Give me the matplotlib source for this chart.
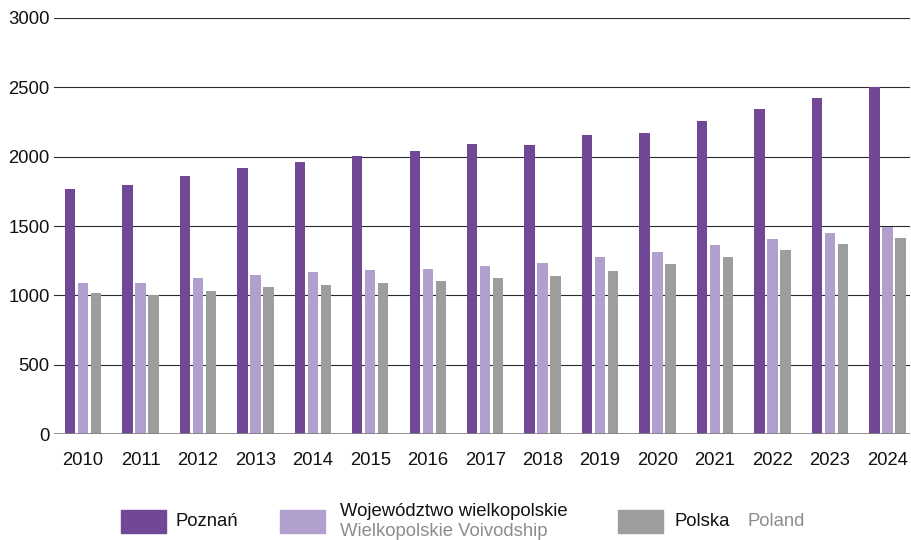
import matplotlib.pyplot as plt
import numpy as np
from matplotlib.patches import Rectangle

plt.rcParams['font.family'] = ['Liberation Sans', 'DejaVu Sans']

lata = [2010, 2011, 2012, 2013, 2014, 2015, 2016, 2017,
        2018, 2019, 2020, 2021, 2022, 2023, 2024]
poznan = [1764, 1796, 1861, 1916, 1962, 2007, 2043, 2089,
          2082, 2159, 2168, 2257, 2344, 2425, 2505]
wielkopolska = [1089, 1089, 1125, 1147, 1168, 1183, 1190, 1212,
                1233, 1276, 1312, 1363, 1406, 1450, 1493]
polska = [1014, 1002, 1031, 1058, 1072, 1089, 1101, 1123,
          1137, 1175, 1224, 1276, 1325, 1368, 1413]

kol_poznan = '#714896'
kol_woj = '#b19fcd'
kol_pl = '#9d9d9d'
rozmiar = 13.3

fig = plt.figure(figsize=(9.12, 5.40), dpi=100)
ax = fig.add_axes([0.0592, 0.196, 0.939, 0.7707])

x = np.arange(len(lata))
w = 0.18
ax.bar(x - 0.226, poznan, w, color=kol_poznan, zorder=3)
ax.bar(x, wielkopolska, w, color=kol_woj, zorder=3)
ax.bar(x + 0.226, polska, w, color=kol_pl, zorder=3)

ax.set_ylim(0, 3000)
ax.set_xlim(-0.505, 14.4)
ax.set_yticks(range(0, 3001, 500))
ax.set_xticks(x)
ax.set_xticklabels([str(r) for r in lata])
for s in ax.spines.values():
    s.set_visible(False)
ax.grid(axis='y', color='#2b2b2b', linewidth=0.8, zorder=1)
ax.axhline(0, color='#7f7f7f', linewidth=1.2, zorder=4)
ax.tick_params(axis='both', length=0, labelsize=rozmiar, colors='#111111')
ax.tick_params(axis='x', pad=13)
ax.tick_params(axis='y', pad=3)

# legenda
def kwadrat(x0, kolor):
    fig.patches.append(Rectangle((x0 / 912, 1 - 533 / 540), 45 / 912, 23 / 540,
                                 transform=fig.transFigure, color=kolor))

kwadrat(121, kol_poznan)
kwadrat(280, kol_woj)
kwadrat(618, kol_pl)
fig.text(176 / 912, 1 - 522 / 540, 'Poznań', fontsize=rozmiar, va='center', color='#111111')
fig.text(340 / 912, 1 - 512 / 540, 'Województwo wielkopolskie', fontsize=rozmiar,
         va='center', color='#111111')
fig.text(340 / 912, 1 - 531 / 540, 'Wielkopolskie Voivodship', fontsize=rozmiar,
         va='center', color='#8c8c8c')
fig.text(675 / 912, 1 - 522 / 540, 'Polska', fontsize=rozmiar, va='center', color='#111111')
fig.text(748 / 912, 1 - 522 / 540, 'Poland', fontsize=rozmiar, va='center', color='#8c8c8c')

fig.savefig('out.png', dpi=100)
